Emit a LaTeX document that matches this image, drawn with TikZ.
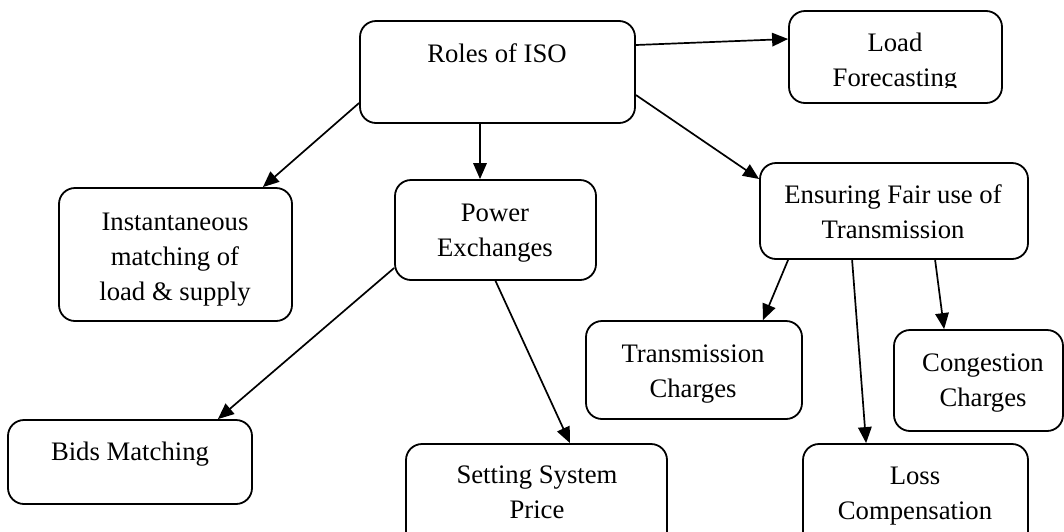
\documentclass[tikz,border=0pt]{standalone}
\usepackage{fontspec}
\setmainfont{Liberation Serif}
\usetikzlibrary{arrows.meta}

% multi-line labels are placed by the baseline of their last line
\tikzset{
  box/.style={draw=black, line width=1.8pt, rounded corners=16pt, rectangle,
              inner sep=0pt, minimum width=#1},
  label text/.style={align=center, anchor=base, inner sep=0pt,
                     font=\fontsize{26.7}{35}\selectfont},
  link/.style={line width=1.7pt, -{Triangle[length=16pt,width=13.5pt]}},
}

\begin{document}
\begin{tikzpicture}[x=1pt, y=-1pt]
  \useasboundingbox (0,0) rectangle (1064,531);
  \clip (0,0) rectangle (1064,531);

  % boxes
  \node[box=275pt, minimum height=102pt] (roles)   at (497.5,72)  {};
  \node[box=213pt, minimum height=92pt]  (load)    at (895.5,57)  {};
  \node[box=233pt, minimum height=133pt] (inst)    at (175.5,254.5) {};
  \node[box=201pt, minimum height=100pt] (power)   at (495.5,230) {};
  \node[box=268pt, minimum height=96pt]  (fair)    at (894,211)   {};
  \node[box=216pt, minimum height=98pt]  (tcharge) at (694,370)   {};
  \node[box=169pt, minimum height=101pt] (cong)    at (978.5,380.5) {};
  \node[box=244pt, minimum height=84pt]  (bids)    at (130,462)   {};
  \node[box=261pt, minimum height=120pt] (price)   at (536.5,504) {};
  \node[box=225pt, minimum height=120pt] (loss)    at (915.5,504) {};

  % texts
  \node[label text] (t-roles)   at (497,62)  {Roles of ISO};
  \begin{scope}
    \clip (789,11) rectangle (1002,87);
    \node[label text] (t-load) at (895,86) {Load\\Forecasting};
  \end{scope}
  \node[label text] (t-inst)    at (175,300) {Instantaneous\\matching of\\load \& supply};
  \node[label text] (t-power)   at (495,256) {Power\\Exchanges};
  \node[label text] (t-fair)    at (893,238) {Ensuring Fair use of\\Transmission};
  \node[label text] (t-tcharge) at (693,397) {Transmission\\Charges};
  \node[label text] (t-cong)    at (983,406) {Congestion\\Charges};
  \node[label text] (t-bids)    at (130,460) {Bids Matching};
  \node[label text] (t-price)   at (537,518) {Setting System\\Price};
  \node[label text] (t-loss)    at (915,519) {Loss\\Compensation};

  % connectors
  \draw[link] ([yshift=27pt]roles.east) -- ([yshift=18pt]load.west);
  \draw[link] ([yshift=-31pt]roles.west) -- ([xshift=-30pt]inst.north east);
  \draw[link] ([xshift=-17.5pt]roles.south) -- ([xshift=-15.5pt]power.north);
  \draw[link] ([yshift=-23pt]roles.east) -- ([yshift=32pt]fair.west);
  \draw[link] ([yshift=-38pt]power.west) -- ([xshift=-35pt]bids.north east);
  \draw[link] (power.south) -- ([xshift=33.5pt]price.north);
  \draw[link] ([xshift=29pt]fair.south west) -- ([xshift=-40pt]tcharge.north east);
  \draw[link] ([xshift=93pt]fair.south west) -- ([xshift=64pt]loss.north west);
  \draw[link] ([xshift=176pt]fair.south west) -- ([xshift=51pt]cong.north west);
\end{tikzpicture}
\end{document}
